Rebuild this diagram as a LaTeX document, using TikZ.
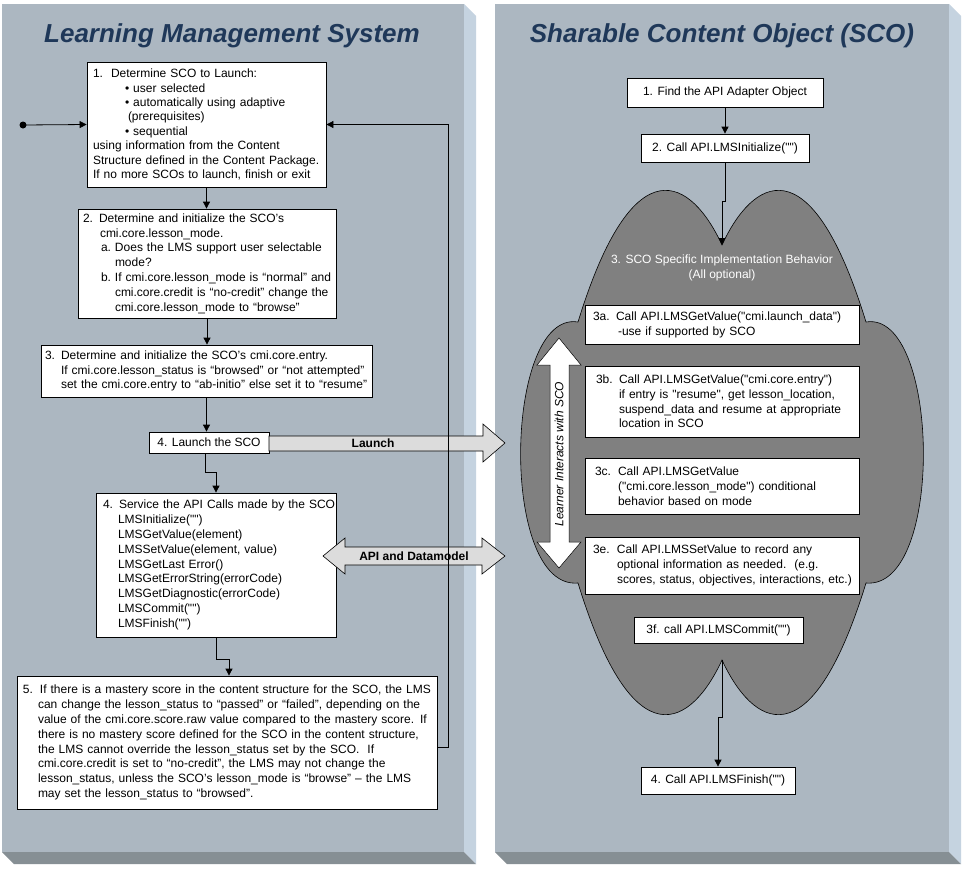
\documentclass[tikz,border=0pt]{standalone}
\usepackage{fontspec}
\setmainfont{Liberation Sans}[Ligatures=TeXOff]
\usetikzlibrary{arrows.meta}
\definecolor{panelc}{RGB}{172,183,193}
\definecolor{sidec}{RGB}{197,211,224}
\definecolor{basec}{RGB}{134,143,148}
\definecolor{titlec}{RGB}{31,56,89}
\definecolor{cloudc}{RGB}{128,128,128}
\definecolor{arrowc}{RGB}{220,220,220}

\begin{document}
\begin{tikzpicture}[x=1pt,y=-1pt,
    >={Triangle[length=7pt,width=7pt]},
    stepbox/.style={draw, fill=white, line width=0.8pt, align=left, font=\fontsize{12}{14.8}\selectfont},
    midbox/.style={stepbox, align=center, inner ysep=0pt},
    link/.style={line width=0.8pt},
    blockarrow/.style={draw, fill=arrowc, line width=0.6pt},
    title/.style={anchor=base, text=titlec, font=\fontsize{26}{30}\selectfont\bfseries\itshape},
    tag/.style={font=\fontsize{12}{14.8}\selectfont\bfseries}]
    \def\cloudpath{(722,245) .. controls (752,180) and (810,140) .. (866,322)
        .. controls (940,310) and (945,590) .. (866,583)
        .. controls (810,765) and (752,725) .. (722,660)
        .. controls (692,725) and (634,765) .. (578,583)
        .. controls (499,590) and (504,310) .. (578,322)
        .. controls (634,140) and (692,180) .. (722,245) -- cycle}
    \useasboundingbox (0,0) rectangle (963,868);
    \fill[white] (0,0) rectangle (963,868);
    % the two panels
    \fill[panelc] (2,4) rectangle (464,852);
    \fill[sidec] (464,4) -- (476,16) -- (476,864) -- (464,852) -- cycle;
    \fill[basec] (2,852) -- (464,852) -- (476,864) -- (14,864) -- cycle;
    \fill[panelc] (495,4) rectangle (949,852);
    \fill[sidec] (949,4) -- (961,16) -- (961,864) -- (949,852) -- cycle;
    \fill[basec] (495,852) -- (949,852) -- (961,864) -- (507,864) -- cycle;
    \node[title] (lmstitle) at (232,42) {Learning Management System};
    \node[title] (scotitle) at (722,42) {Sharable Content Object (SCO)};
    % the cloud
    \draw[fill=cloudc, line width=0.6pt] \cloudpath;
    \coordinate (ctop) at (722,245);
    \coordinate (cbot) at (722,660);
    \node[text=white, align=center, font=\fontsize{12}{14.4}\selectfont] (behave) at (722,268) {3. SCO Specific Implementation Behavior\\(All optional)};
    \draw[fill=white, line width=0.5pt] (559,338) -- (581,365) -- (569,365) -- (569,542) -- (581,542) -- (559,568) -- (537,542) -- (550,542) -- (550,365) -- (537,365) -- cycle;
    \node[rotate=90, font=\fontsize{12}{14}\selectfont\itshape] (learner) at (559,454) {Learner Interacts with SCO};
    % LMS side
    \coordinate (start) at (23,125);
    \fill (start) circle (3.5);
    \node[stepbox, text width=227pt, inner xsep=6pt, minimum height=125pt, font=\fontsize{12}{14.4}\selectfont] (b1) at (206.5,124.5) {\makebox[18pt][l]{1.}Determine SCO to Launch:\\
        \hspace*{32pt}• user selected\\
        \hspace*{32pt}• automatically using adaptive\\
        \hspace*{35pt}(prerequisites)\\
        \hspace*{32pt}• sequential\\
        using information from the Content\\
        Structure defined in the Content Package.\\
        If no more SCOs to launch, finish or exit};
    \node[stepbox, text width=248pt, inner xsep=5pt, minimum height=109pt] (b2) at (207,263.5) {2. Determine and initialize the SCO’s\\
        \hspace*{17pt}cmi.core.lesson\_mode.\\
        \hspace*{18pt}\makebox[14pt][l]{a.}Does the LMS support user selectable\\
        \hspace*{32pt}mode?\\
        \hspace*{18pt}\makebox[14pt][l]{b.}\mbox{If cmi.core.lesson\_mode is “normal” and}\\
        \hspace*{32pt}cmi.core.credit is “no-credit” change the\\
        \hspace*{32pt}cmi.core.lesson\_mode to “browse”};
    \node[stepbox, text width=323pt, inner xsep=4pt, minimum height=52pt] (b3) at (206.5,371) {\mbox{3. Determine and initialize the SCO’s cmi.core.entry.}\\
        \hspace*{16pt}\mbox{If cmi.core.lesson\_status is “browsed” or “not attempted”}\\
        \hspace*{16pt}\mbox{set the cmi.core.entry to “ab-initio” else set it to “resume”}};
    \node[midbox, minimum width=120pt, minimum height=21pt] (launch) at (209,442.5) {4. Launch the SCO};
    \node[stepbox, text width=226pt, inner xsep=7pt, minimum height=144pt] (b4) at (216,565) {\mbox{4. Service the API Calls made by the SCO}\\
        \hspace*{15pt}LMSInitialize("")\\
        \hspace*{15pt}LMSGetValue(element)\\
        \hspace*{15pt}LMSSetValue(element, value)\\
        \hspace*{15pt}LMSGetLast Error()\\
        \hspace*{15pt}LMSGetErrorString(errorCode)\\
        \hspace*{15pt}LMSGetDiagnostic(errorCode)\\
        \hspace*{15pt}LMSCommit("")\\
        \hspace*{15pt}LMSFinish("")};
    \node[stepbox, text width=408pt, inner xsep=6pt, minimum height=133pt] (b5) at (227,742.5) {\makebox[17pt][l]{5.}\mbox{If there is a mastery score in the content structure for the SCO, the LMS}\\
        \hspace*{15pt}\mbox{can change the lesson\_status to “passed” or “failed”, depending on the}\\
        \hspace*{15pt}\mbox{value of the cmi.core.score.raw value compared to the mastery score. If}\\
        \hspace*{15pt}\mbox{there is no mastery score defined for the SCO in the content structure,}\\
        \hspace*{15pt}\mbox{the LMS cannot override the lesson\_status set by the SCO.\ \ If}\\
        \hspace*{15pt}\mbox{cmi.core.credit is set to “no-credit”, the LMS may not change the}\\
        \hspace*{15pt}\mbox{lesson\_status, unless the SCO’s lesson\_mode is “browse” – the LMS}\\
        \hspace*{15pt}may set the lesson\_status to “browsed”.};
    \draw[link,->] (start) -- (b1.west);
    \draw[link,->] (b1.south) -- (b1.south |- b2.north);
    \draw[link,->] (b2.south) -- (b2.south |- b3.north);
    \draw[link,->] (b3.south) -- (b3.south |- launch.north);
    \draw[link,->] ([xshift=-4pt]launch.south) -- ++(0,19) -| (b4.north);
    \draw[link,->] (b4.south) -- ++(0,22) -| ([xshift=2pt]b5.north);
    % SCO side
    \node[midbox, minimum width=196pt, minimum height=29pt] (r1) at (725,92.5) {1. Find the API Adapter Object};
    \node[midbox, minimum width=168pt, minimum height=28pt] (r2) at (725,148) {2. Call API.LMSInitialize("")};
    \node[stepbox, text width=258pt, inner xsep=8pt, minimum height=39pt] (r3a) at (722,324.5) {\makebox[23pt][l]{3a.}\mbox{Call API.LMSGetValue("cmi.launch\_data")}\\
        \hspace*{25pt}-use if supported by SCO};
    \node[stepbox, text width=258pt, inner xsep=8pt, minimum height=71pt] (r3b) at (722,401.5) {\hspace*{3pt}\makebox[23pt][l]{3b.}\mbox{Call API.LMSGetValue("cmi.core.entry")}\\
        \hspace*{26pt}\mbox{if entry is "resume", get lesson\_location,}\\
        \hspace*{26pt}\mbox{suspend\_data and resume at appropriate}\\
        \hspace*{26pt}location in SCO};
    \node[stepbox, text width=258pt, inner xsep=8pt, minimum height=56pt] (r3c) at (722,486) {\hspace*{2pt}\makebox[23pt][l]{3c.}Call API.LMSGetValue\\
        \hspace*{25pt}\mbox{("cmi.core.lesson\_mode") conditional}\\
        \hspace*{25pt}behavior based on mode};
    \node[stepbox, text width=258pt, inner xsep=8pt, minimum height=57pt] (r3e) at (722,565.5) {\makebox[24pt][l]{3e.}Call API.LMSSetValue to record any\\
        \hspace*{24pt}\mbox{optional information as needed.\ \ (e.g.}\\
        \hspace*{24pt}\mbox{scores, status, objectives, interactions, etc.)}};
    \node[midbox, minimum width=169pt, minimum height=26pt] (r3f) at (718.5,630) {3f. call API.LMSCommit("")};
    \node[midbox, minimum width=154pt, minimum height=27pt] (r4) at (718,780.5) {4. Call API.LMSFinish("")};
    \draw[link,->] (r1.south) -- (r1.south |- r2.north);
    \draw[link,->] (r2.south) -- ++(0,39) -| (ctop);
    \draw[link,->] (cbot) -- ++(0,57) -| (r4.north);
    % arrows between the panels
    \coordinate (launchtip) at (505,443);
    \draw[blockarrow] (269,436) -- (483,436) -- (483,424) -- (launchtip) -- (483,462) -- (483,451) -- (269,451) -- cycle;
    \node[tag] (launchlbl) at (373,443.5) {Launch};
    \coordinate (apileft) at (323,556);
    \coordinate (apiright) at (505,556);
    \draw[blockarrow] (apileft) -- (345,538) -- (345,547) -- (482,547) -- (482,538) -- (apiright) -- (482,574) -- (482,565) -- (345,565) -- (345,574) -- cycle;
    \node[tag] (apilbl) at (414,556.5) {API and Datamodel};
    \draw[link,->] ([yshift=-4.5pt]b5.east) -- ++(11,0) |- (b1.east);
\end{tikzpicture}
\end{document}
